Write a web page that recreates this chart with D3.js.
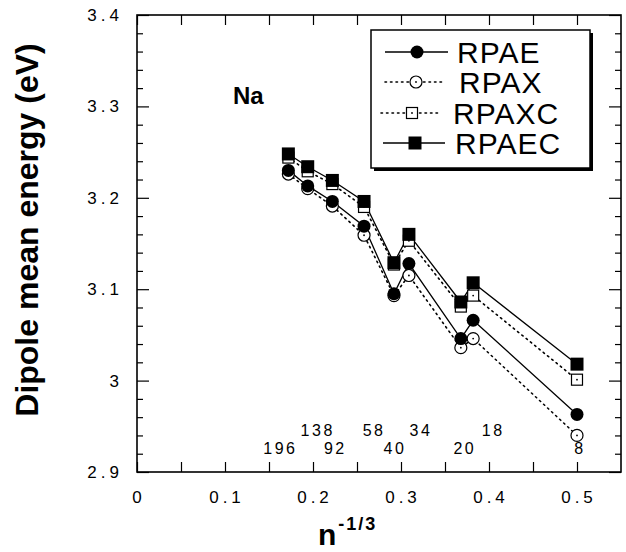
<!DOCTYPE html>
<html><head><meta charset="utf-8">
<script src="https://cdn.jsdelivr.net/npm/d3@7"></script>
<style>body{margin:0;background:#fff}svg{display:block}</style>
</head><body>
<svg id="c" width="626" height="552"></svg>
<script>
// ---- data ----
const clusterSizes = [196, 138, 92, 58, 40, 34, 20, 18, 8];
const xValues = [0.172, 0.194, 0.222, 0.258, 0.292, 0.309, 0.368, 0.382, 0.5];
const rpae  = [3.230, 3.213, 3.196, 3.169, 3.095, 3.128, 3.046, 3.066, 2.963];
const rpax  = [3.226, 3.210, 3.191, 3.159, 3.093, 3.115, 3.036, 3.046, 2.940];
const rpaxc = [3.244, 3.229, 3.215, 3.190, 3.127, 3.153, 3.081, 3.093, 3.001];
const rpaec = [3.248, 3.234, 3.219, 3.196, 3.129, 3.160, 3.086, 3.107, 3.018];
const seriesNames = ["RPAE", "RPAX", "RPAXC", "RPAEC"];
const xTickLabels = ["0", "0.1", "0.2", "0.3", "0.4", "0.5"];
const yTickLabels = ["2.9", "3", "3.1", "3.2", "3.3", "3.4"];

const svg = d3.select("#c");
const L = 137, R = 621, T = 15, B = 472;
const x = d3.scaleLinear().domain([0, 0.55]).range([L, R]);
const y = d3.scaleLinear().domain([2.9, 3.4]).range([B, T]);
const font = "'Liberation Sans', Arial, Helvetica, sans-serif";

// ---- axes (ticks inward) ----
const xt = d3.range(0, 0.5001, 0.05);
const yMajor = d3.range(2.9, 3.4001, 0.1);
const yMinor = d3.range(2.92, 3.4, 0.02).filter(v => Math.abs(Math.round(v*10) - v*10) > 1e-6);
function styleAxis(g){ g.select(".domain").remove(); g.selectAll("line").attr("stroke","#000").attr("stroke-width",1.2); g.selectAll("text").remove(); }
svg.append("g").attr("transform",`translate(0,${B})`).call(d3.axisBottom(x).tickValues(xt).tickSize(-10)).call(styleAxis);
svg.append("g").attr("transform",`translate(0,${T})`).call(d3.axisTop(x).tickValues(xt).tickSize(-10)).call(styleAxis);
svg.append("g").attr("transform",`translate(${L},0)`).call(d3.axisLeft(y).tickValues(yMajor).tickSize(-12)).call(styleAxis);
svg.append("g").attr("transform",`translate(${L},0)`).call(d3.axisLeft(y).tickValues(yMinor).tickSize(-6)).call(styleAxis);
svg.append("g").attr("transform",`translate(${R},0)`).call(d3.axisRight(y).tickValues(yMajor).tickSize(-12)).call(styleAxis);
svg.append("g").attr("transform",`translate(${R},0)`).call(d3.axisRight(y).tickValues(yMinor).tickSize(-6)).call(styleAxis);
svg.append("rect").attr("x",L).attr("y",T).attr("width",R-L).attr("height",B-T)
  .attr("fill","none").attr("stroke","#000").attr("stroke-width",1.6);

// tick labels
svg.append("g").selectAll("text").data(xTickLabels).join("text")
  .attr("x", d => x(+d) + 2).attr("y", 503)
  .attr("text-anchor","middle").attr("font-family",font).attr("font-size",17)
  .attr("letter-spacing","4px").text(d => d);
svg.append("g").selectAll("text").data(yTickLabels).join("text")
  .attr("x", 123).attr("y", d => y(+d) + 6)
  .attr("text-anchor","end").attr("font-family",font).attr("font-size",17)
  .attr("letter-spacing","4px").text(d => d);

// axis titles
svg.append("text").attr("transform","translate(38,230) rotate(-90)")
  .attr("text-anchor","middle").attr("font-family",font).attr("font-weight","bold")
  .attr("font-size",32).text("Dipole mean energy (eV)");
const xl = svg.append("text").attr("x",318).attr("y",545).attr("font-family",font).attr("font-weight","bold");
xl.append("tspan").attr("font-size",30).text("n");
xl.append("tspan").attr("font-size",18).attr("dy",-15).attr("dx",2).attr("letter-spacing","2px").text("-1/3");

// Na label
svg.append("text").attr("x",233).attr("y",104).attr("font-family",font).attr("font-weight","bold")
  .attr("font-size",24).text("Na");

// ---- lines ----
const line = d3.line().x(d => x(d[0])).y(d => y(d[1]));
const series = [
  {name:"RPAX",  vals:rpax,  dash:"1.5,4", shape:"circle", fill:false},
  {name:"RPAXC", vals:rpaxc, dash:"1.5,4", shape:"square", fill:false},
  {name:"RPAE",  vals:rpae,  dash:null,    shape:"circle", fill:true},
  {name:"RPAEC", vals:rpaec, dash:null,    shape:"square", fill:true}
];
series.forEach(s => {
  svg.append("path").datum(xValues.map((xv,i)=>[xv,s.vals[i]]))
    .attr("d", line).attr("fill","none").attr("stroke","#000")
    .attr("stroke-width", s.dash ? 1.6 : 1.3)
    .attr("stroke-linecap", s.dash ? "round" : "butt")
    .attr("stroke-dasharray", s.dash);
});

function marker(g, cx, cy, shape, fill){
  if (shape === "circle") {
    if (fill) g.append("circle").attr("cx",cx).attr("cy",cy).attr("r",6.5).attr("fill","#000");
    else {
      g.append("circle").attr("cx",cx).attr("cy",cy).attr("r",6).attr("fill","#fff").attr("stroke","#000").attr("stroke-width",1.2);
      g.append("circle").attr("cx",cx).attr("cy",cy).attr("r",0.9).attr("fill","#000");
    }
  } else {
    if (fill) g.append("rect").attr("x",cx-6.5).attr("y",cy-6.5).attr("width",13).attr("height",13).attr("fill","#000");
    else {
      g.append("rect").attr("x",cx-5.5).attr("y",cy-5.5).attr("width",11).attr("height",11).attr("fill","#fff").attr("stroke","#000").attr("stroke-width",1.2);
      g.append("circle").attr("cx",cx).attr("cy",cy).attr("r",0.9).attr("fill","#000");
    }
  }
}
series.forEach(s => {
  const g = svg.append("g");
  xValues.forEach((xv,i) => marker(g, x(xv), y(s.vals[i]), s.shape, s.fill));
});

// cluster size annotations (alternating rows, nudged right/left of their column)
const annDx  = [-8, 10, 3, 10, 1, 12, 4, 20, 3];
const annRow = [1, 0, 1, 0, 1, 0, 1, 0, 1];
svg.append("g").selectAll("text").data(clusterSizes).join("text")
  .attr("x", (d,i) => x(xValues[i]) + annDx[i])
  .attr("y", (d,i) => annRow[i] ? 454 : 436)
  .attr("text-anchor","middle").attr("font-family",font).attr("font-size",16)
  .attr("letter-spacing","2.5px").text(d => d);

// ---- legend ----
const lg = svg.append("g");
lg.append("rect").attr("x",374).attr("y",33).attr("width",219).attr("height",138).attr("fill","#000");
lg.append("rect").attr("x",371).attr("y",30).attr("width",219).attr("height",138).attr("fill","#fff").attr("stroke","#000").attr("stroke-width",1.5);
const legRows = [
  {name:seriesNames[0], y:52,  x1:385, x2:448, mx:417, tx:457, dash:null,    shape:"circle", fill:true},
  {name:seriesNames[1], y:82,  x1:385, x2:442, mx:416, tx:459, dash:"1.5,4", shape:"circle", fill:false},
  {name:seriesNames[2], y:113, x1:381, x2:438, mx:412, tx:453, dash:"1.5,4", shape:"square", fill:false},
  {name:seriesNames[3], y:143, x1:383, x2:445, mx:415, tx:455, dash:null,    shape:"square", fill:true}
];
legRows.forEach(r => {
  lg.append("line").attr("x1",r.x1).attr("x2",r.x2).attr("y1",r.y).attr("y2",r.y)
    .attr("stroke","#000").attr("stroke-width", r.dash ? 1.6 : 1.3)
    .attr("stroke-linecap", r.dash ? "round" : "butt").attr("stroke-dasharray", r.dash);
  marker(lg, r.mx, r.y, r.shape, r.fill);
  lg.append("text").attr("x",r.tx).attr("y",r.y+11).attr("font-family",font)
    .attr("font-size",30).attr("letter-spacing","1px").text(r.name);
});
</script>
</body></html>
